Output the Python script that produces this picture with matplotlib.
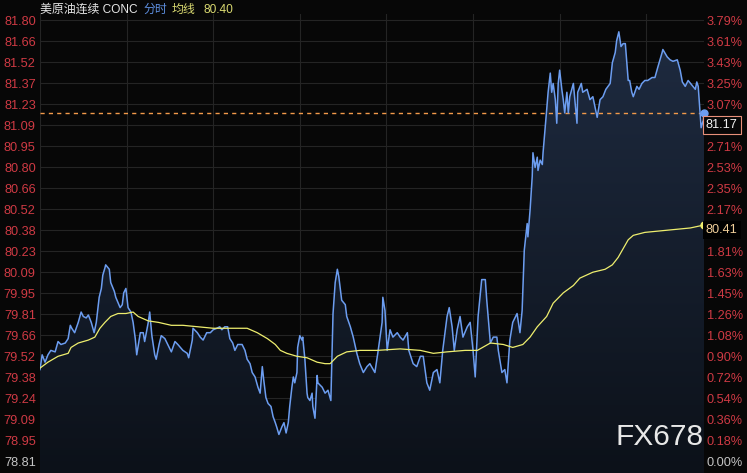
import matplotlib.pyplot as plt
import numpy as np
from matplotlib.colors import LinearSegmentedColormap
from matplotlib.patches import Polygon

plt.rcParams['font.family'] = ['Liberation Sans', 'Noto Sans CJK SC', 'DejaVu Sans']

# intraday price, minutes from session open
minutes = [0, 3, 7, 11, 15, 21, 25, 29, 35, 39, 42, 44, 48, 53, 57, 60, 64, 67,
           71, 75, 78, 82, 85, 87, 90, 91, 96, 98, 103, 105, 111, 114, 116, 119,
           122, 126, 129, 132, 134, 139, 143, 145, 150, 152, 155, 159, 161, 165,
           168, 173, 177, 182, 187, 191, 198, 204, 206, 211, 212, 218, 222, 226,
           231, 236, 240, 245, 249, 252, 256, 260, 263, 267, 270, 274, 280, 284,
           287, 291, 294, 298, 302, 305, 308, 310, 313, 316, 320, 323, 326, 328,
           331, 335, 338, 341, 344, 346, 349, 351, 353, 356, 357, 360, 363, 364,
           367, 370, 371, 374, 377, 378, 381, 384, 385, 391, 395, 399, 403, 406,
           409, 412, 414, 418, 423, 425, 430, 434, 439, 443, 448, 453, 457, 464,
           468, 474, 475, 478, 481, 485, 489, 495, 499, 503, 509, 511, 517, 522,
           527, 531, 536, 540, 545, 550, 554, 558, 564, 567, 571, 574, 578, 582,
           586, 592, 596, 600, 603, 607, 612, 617, 619, 624, 628, 633, 635, 640,
           644, 647, 651, 655, 661, 665, 668, 671, 675, 676, 679, 682, 683, 686,
           689, 690, 693, 696, 697, 700, 702, 704, 707, 709, 711, 714, 716, 718,
           720, 723, 725, 727, 730, 732, 734, 739, 741, 744, 745, 750, 752, 758,
           762, 766, 772, 776, 780, 784, 790, 793, 797, 799, 802, 805, 808, 811,
           813, 815, 817, 820, 822, 827, 830, 834, 838, 842, 848, 852, 856, 862,
           863, 869, 873, 877, 883, 887, 890, 894, 898, 903, 908, 910, 912, 914,
           916, 919, 920]
price = [79.43, 79.53, 79.48, 79.53, 79.56, 79.55, 79.62, 79.60, 79.61, 79.64,
         79.73, 79.71, 79.68, 79.75, 79.82, 79.79, 79.78, 79.80, 79.75, 79.68,
         79.75, 79.92, 79.98, 80.07, 80.12, 80.14, 80.11, 80.02, 79.96, 79.92,
         79.85, 79.87, 79.95, 79.98, 79.85, 79.82, 79.75, 79.64, 79.53, 79.68,
         79.68, 79.62, 79.75, 79.82, 79.66, 79.53, 79.50, 79.60, 79.66, 79.64,
         79.60, 79.55, 79.62, 79.60, 79.56, 79.54, 79.51, 79.63, 79.71, 79.68,
         79.65, 79.63, 79.68, 79.68, 79.70, 79.71, 79.72, 79.70, 79.72, 79.72,
         79.64, 79.61, 79.56, 79.60, 79.60, 79.56, 79.50, 79.47, 79.41, 79.38,
         79.31, 79.27, 79.45, 79.36, 79.24, 79.20, 79.18, 79.11, 79.07, 79.04,
         78.99, 79.04, 79.07, 79.00, 79.07, 79.18, 79.31, 79.38, 79.34, 79.41,
         79.58, 79.66, 79.63, 79.65, 79.50, 79.27, 79.24, 79.22, 79.27, 79.18,
         79.10, 79.39, 79.34, 79.31, 79.27, 79.29, 79.22, 79.81, 80.02, 80.11,
         80.06, 79.90, 79.87, 79.79, 79.72, 79.65, 79.54, 79.47, 79.41, 79.45,
         79.47, 79.41, 79.54, 79.75, 79.92, 79.83, 79.56, 79.70, 79.65, 79.68,
         79.65, 79.63, 79.68, 79.56, 79.47, 79.45, 79.52, 79.52, 79.34, 79.29,
         79.41, 79.43, 79.34, 79.56, 79.79, 79.85, 79.72, 79.56, 79.70, 79.79,
         79.65, 79.72, 79.75, 79.56, 79.38, 79.79, 80.04, 80.04, 79.90, 79.61,
         79.65, 79.65, 79.56, 79.41, 79.43, 79.34, 79.63, 79.75, 79.81, 79.68,
         79.83, 80.24, 80.42, 80.33, 80.51, 80.74, 80.90, 80.80, 80.87, 80.78,
         80.85, 80.82, 80.90, 81.07, 81.19, 81.31, 81.44, 81.31, 81.37, 81.26,
         81.10, 81.37, 81.46, 81.33, 81.26, 81.17, 81.31, 81.17, 81.28, 81.37,
         81.26, 81.10, 81.31, 81.37, 81.31, 81.33, 81.26, 81.28, 81.14, 81.26,
         81.28, 81.33, 81.37, 81.51, 81.58, 81.66, 81.72, 81.62, 81.64, 81.64,
         81.51, 81.39, 81.39, 81.31, 81.28, 81.35, 81.33, 81.37, 81.39, 81.39,
         81.41, 81.41, 81.48, 81.58, 81.60, 81.55, 81.53, 81.52, 81.53, 81.46,
         81.38, 81.35, 81.39, 81.36, 81.33, 81.38, 81.35, 81.21, 81.07, 81.12,
         81.17]

# average price line
avg_minutes = [0, 11, 25, 39, 43, 53, 67, 76, 83, 90, 98, 108, 119, 129, 136,
               150, 164, 182, 198, 240, 267, 287, 301, 315, 326, 333, 342, 356,
               370, 384, 395, 402, 412, 425, 443, 467, 499, 527, 545, 564, 589,
               606, 624, 642, 655, 669, 679, 689, 702, 711, 725, 739, 748, 766,
               783, 793, 801, 808, 815, 822, 838, 859, 880, 901, 920]
avg_price = [79.44, 79.48, 79.52, 79.54, 79.58, 79.61, 79.63, 79.65, 79.71,
             79.75, 79.79, 79.81, 79.81, 79.82, 79.79, 79.76, 79.75, 79.73,
             79.73, 79.71, 79.71, 79.71, 79.68, 79.64, 79.60, 79.56, 79.54,
             79.52, 79.51, 79.48, 79.47, 79.47, 79.52, 79.55, 79.56, 79.56,
             79.57, 79.56, 79.54, 79.55, 79.56, 79.56, 79.61, 79.60, 79.58,
             79.60, 79.65, 79.72, 79.79, 79.88, 79.95, 80.00, 80.05, 80.09,
             80.11, 80.14, 80.19, 80.25, 80.31, 80.34, 80.36, 80.37, 80.38,
             80.39, 80.41]

left_labels = ['81.80', '81.66', '81.52', '81.37', '81.23', '81.09', '80.95',
               '80.80', '80.66', '80.52', '80.38', '80.23', '80.09', '79.95',
               '79.81', '79.66', '79.52', '79.38', '79.24', '79.09', '78.95',
               '78.81']
right_labels = ['3.79%', '3.61%', '3.43%', '3.25%', '3.07%', '', '2.71%',
                '2.53%', '2.35%', '2.17%', '', '1.81%', '1.63%', '1.45%',
                '1.26%', '1.08%', '0.90%', '0.72%', '0.54%', '0.36%', '0.18%',
                '0.00%']
last_price = 81.17
last_avg = 80.41
title_avg = '80.40'

W, H = 747, 473
BG = '#070707'
RED = '#cf3a44'
GRAY = '#c4c4c4'
BLUE = '#6c9df0'
YELLOW = '#eeee6e'

fig = plt.figure(figsize=(W / 100, H / 100), dpi=100, facecolor=BG)
ax = fig.add_axes([40 / W, 0, 664 / W, 459 / H])
ax.set_facecolor(BG)
ylo, yhi = 78.7287, 81.8407
ax.set_xlim(0, 920)
ax.set_ylim(ylo, yhi)
for s in ax.spines.values():
    s.set_visible(False)

ticks = np.linspace(81.80, 78.81, len(left_labels))
for t in ticks:
    ax.axhline(t, color='#242424', lw=0.8, zorder=0)
for v in range(0, 920, 120):
    ax.axvline(v, color='#242424', lw=0.8, zorder=0)

# gradient fill under price
verts = np.column_stack([np.r_[minutes[0], minutes, minutes[-1]],
                         np.r_[ylo, price, ylo]])
poly = Polygon(verts, closed=True, facecolor='none', edgecolor='none')
ax.add_patch(poly)
cmap = LinearSegmentedColormap.from_list('fill', ['#0c1119', '#1f2c42'])
grad = np.linspace(1, 0, 256).reshape(-1, 1)
im = ax.imshow(grad, extent=[0, 920, ylo, yhi], aspect='auto', cmap=cmap,
               origin='upper', zorder=1)
im.set_clip_path(poly)

ax.plot(minutes, price, color=BLUE, lw=1.1, zorder=3)
ax.plot(avg_minutes, avg_price, color=YELLOW, lw=0.9, zorder=3)
ax.axhline(last_price, color='#f29a4a', lw=1.0, ls=(0, (3, 3)), zorder=2)
ax.plot(minutes[-1], price[-1], 'o', color=BLUE, ms=5, zorder=4, clip_on=False)
ax.plot(avg_minutes[-1], avg_price[-1], 'o', color=YELLOW, ms=5, zorder=4,
        clip_on=False)

ax.set_xticks([])
ax.set_yticks(ticks)
ax.set_yticklabels(left_labels)
ax.tick_params(axis='y', length=0, pad=3, labelsize=9.2, colors=RED)
ax.get_yticklabels()[-1].set_color(GRAY)

ax2 = ax.twinx()
ax2.set_ylim(ylo, yhi)
for s in ax2.spines.values():
    s.set_visible(False)
ax2.set_yticks(ticks)
ax2.set_yticklabels(right_labels)
ax2.tick_params(axis='y', length=0, pad=2, labelsize=9.2, colors=RED)
ax2.get_yticklabels()[-1].set_color(GRAY)

# price tags on the right axis
ax2.text(1.003, ticks[5], '%.2f' % last_price, transform=ax2.get_yaxis_transform(),
         ha='left', va='center', fontsize=9.2, color='#f2f2f2',
         bbox=dict(boxstyle='square,pad=0.25', fc=BG, ec='#e8907a', lw=0.8))
ax2.text(1.003, ticks[10], '%.2f' % last_avg, transform=ax2.get_yaxis_transform(),
         ha='left', va='center', fontsize=9.2, color='#f0cf9a',
         bbox=dict(boxstyle='square,pad=0.25', fc='#000000', ec='none'))

# title line
ty = 1 - 10 / H
fig.text(40 / W, ty, '美原油连续 CONC', color='#e6e6e6', fontsize=8.6, va='center')
fig.text(143 / W, ty, '分时', color='#5e8fe0', fontsize=8.6, va='center')
fig.text(172 / W, ty, '均线', color='#d9d970', fontsize=8.6, va='center')
fig.text(204 / W, ty, title_avg, color='#d9d970', fontsize=8.6, va='center')

# watermark
fig.text(659 / W, 1 - 437 / H, 'FX678', color='#e8e8e8', fontsize=21.5,
         ha='center', va='center', zorder=10)

fig.savefig('out.png', dpi=100, facecolor=BG)
